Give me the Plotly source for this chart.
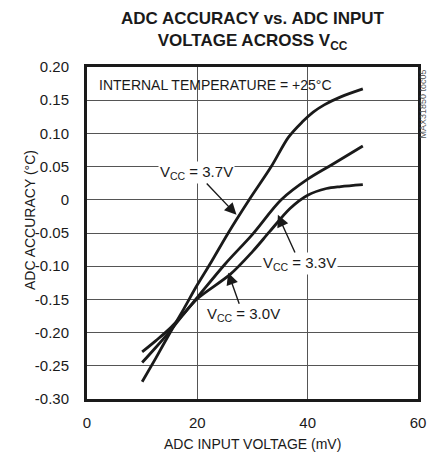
import plotly.graph_objects as go

# ---- data ----
x_37 = [10, 12.5, 15, 17.5, 20, 22.5, 25.6, 29.4, 33.4, 36.5, 39, 41, 43, 46, 50]
y_37 = [-0.274, -0.238, -0.201, -0.165, -0.128, -0.094, -0.050, 0.000, 0.050, 0.094, 0.117, 0.132, 0.143, 0.155, 0.167]

x_33 = [10, 12.5, 15, 17.5, 20, 25, 30, 35.2, 40, 44, 50]
y_33 = [-0.245, -0.222, -0.198, -0.172, -0.147, -0.097, -0.052, 0.000, 0.031, 0.051, 0.081]

x_30 = [10, 12.5, 15, 17.5, 20, 26, 30, 33.1, 36.8, 40, 43.4, 46, 50]
y_30 = [-0.229, -0.212, -0.194, -0.172, -0.149, -0.112, -0.078, -0.048, -0.013, 0.007, 0.017, 0.020, 0.023]

x_ticks = [0, 20, 40, 60]
y_ticks = [0.20, 0.15, 0.10, 0.05, 0, -0.05, -0.10, -0.15, -0.20, -0.25, -0.30]
y_tick_labels = ["0.20", "0.15", "0.10", "0.05", "0", "-0.05", "-0.10", "-0.15", "-0.20", "-0.25", "-0.30"]

FONT = "Liberation Sans, Arial, sans-serif"
INK = "#1a1a1a"

fig = go.Figure()
for xs, ys, name in [(x_37, y_37, "VCC = 3.7V"), (x_33, y_33, "VCC = 3.3V"), (x_30, y_30, "VCC = 3.0V")]:
    fig.add_trace(go.Scatter(x=xs, y=ys, mode="lines", name=name,
                             line=dict(color=INK, width=2.8, shape="spline", smoothing=0.9),
                             showlegend=False, hoverinfo="skip"))

annots = []
# curve labels (label centre) with arrows pointing at the curves (tip)
labels = [
    ("V<sub>CC</sub> = 3.7V", 19.8, 0.041, 27.1, -0.0227),
    ("V<sub>CC</sub> = 3.3V", 38.6, -0.096, 34.6, -0.0227),
    ("V<sub>CC</sub> = 3.0V", 28.3, -0.173, 25.6, -0.110),
]
for txt, lx, ly, tx, ty in labels:
    annots.append(dict(x=tx, y=ty, ax=lx, ay=ly, xref="x", yref="y", axref="x", ayref="y",
                       text=txt, showarrow=True, arrowhead=2, arrowsize=1.7, arrowwidth=1.4,
                       arrowcolor=INK, standoff=0,
                       font=dict(family=FONT, size=15, color=INK),
                       bgcolor="white", borderpad=1))
annots.append(dict(x=1.8, y=0.1725, xref="x", yref="y", xanchor="left", yanchor="middle",
                   text="INTERNAL TEMPERATURE = +25°C",
                   showarrow=False, font=dict(family=FONT, size=14, color=INK)))

L, R, T, B = 87, 11, 67, 59
W, H = 429, 458
pw, ph = W - L - R, H - T - B


def fig_to_paper(fx, fy):
    return (fx - L) / pw, 1 - (fy - T) / ph


# axis titles and figure id
px_, py_ = fig_to_paper(30, 220)
annots.append(dict(x=px_, y=py_, xref="paper", yref="paper", xanchor="center", yanchor="middle",
                   text="ADC ACCURACY (°C)",
                   textangle=-90, showarrow=False, font=dict(family=FONT, size=14, color=INK)))
px_, py_ = fig_to_paper(252, 444)
annots.append(dict(x=px_, y=py_, xref="paper", yref="paper", xanchor="center", yanchor="middle",
                   text="ADC INPUT VOLTAGE (mV)",
                   showarrow=False, font=dict(family=FONT, size=14, color=INK)))
px_, py_ = fig_to_paper(422.5, 104)
annots.append(dict(x=px_, y=py_, xref="paper", yref="paper", xanchor="center", yanchor="middle",
                   text="MAX31850 toc05",
                   textangle=-90, showarrow=False, font=dict(family=FONT, size=9, color="#555555")))

fig.update_layout(
    width=W, height=H,
    margin=dict(l=L, r=R, t=T, b=B, autoexpand=False),
    paper_bgcolor="white", plot_bgcolor="white",
    title=dict(text="<b>ADC ACCURACY vs. ADC INPUT<br>VOLTAGE ACROSS V<sub>CC</sub></b>",
               x=0.5, xref="paper", xanchor="center", y=1 - 24 / H, yref="container", yanchor="middle",
               font=dict(family=FONT, size=17, color=INK)),
    annotations=annots,
)
fig.update_xaxes(range=[0, 60], tickvals=x_ticks, showgrid=True, gridcolor="#555555", gridwidth=1,
                 showline=True, linecolor=INK, linewidth=3, mirror=True, zeroline=False,
                 ticks="", ticklabelstandoff=8,
                 tickfont=dict(family=FONT, size=15, color=INK))
fig.update_yaxes(range=[-0.30, 0.20], tickvals=y_ticks, ticktext=y_tick_labels, showgrid=True,
                 gridcolor="#555555", gridwidth=1, showline=True, linecolor=INK, linewidth=3,
                 mirror=True, zeroline=False, ticks="", ticklabelstandoff=12,
                 tickfont=dict(family=FONT, size=15, color=INK))

fig.write_html("out.html", config={"displayModeBar": False},
               post_script="document.body.style.margin='0px';")
